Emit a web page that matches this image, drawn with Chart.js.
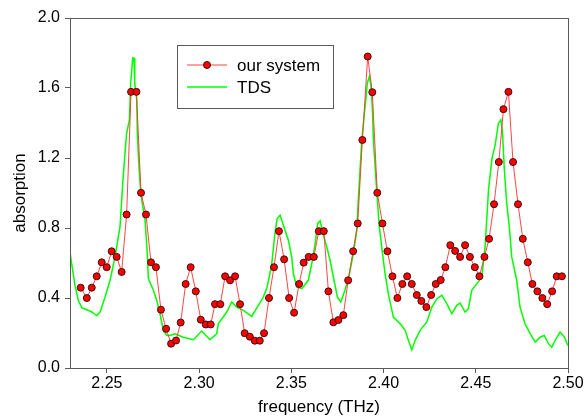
<!DOCTYPE html>
<html>
<head>
<meta charset="utf-8">
<script src="https://cdn.jsdelivr.net/npm/chart.js@4/dist/chart.umd.min.js"></script>
<style>
  html, body { margin: 0; padding: 0; background: #fff; }
  #wrap { width: 587px; height: 419px; }
</style>
</head>
<body>
<div id="wrap"><canvas id="absChart"></canvas></div>
<script>
// "our system" measurement
const ourFreq = [2.2358, 2.2391, 2.2418, 2.2445, 2.2472, 2.2499, 2.2526, 2.2553, 2.2580, 2.2607,
  2.2631, 2.2660, 2.2685, 2.2712, 2.2739, 2.2766, 2.2793, 2.2821, 2.2848, 2.2875,
  2.2900, 2.2927, 2.2954, 2.2982, 2.3009, 2.3036, 2.3063, 2.3086, 2.3115, 2.3141,
  2.3168, 2.3195, 2.3222, 2.3247, 2.3275, 2.3302, 2.3329, 2.3352, 2.3379, 2.3406,
  2.3433, 2.3461, 2.3488, 2.3515, 2.3542, 2.3567, 2.3594, 2.3622, 2.3649, 2.3676,
  2.3701, 2.3728, 2.3755, 2.3782, 2.3808, 2.3835, 2.3860, 2.3885, 2.3914, 2.3939,
  2.3966, 2.3994, 2.4021, 2.4048, 2.4075, 2.4102, 2.4128, 2.4153, 2.4180, 2.4205,
  2.4232, 2.4258, 2.4283, 2.4310, 2.4335, 2.4362, 2.4388, 2.4415, 2.4442, 2.4468,
  2.4495, 2.4520, 2.4547, 2.4572, 2.4599, 2.4625, 2.4650, 2.4677, 2.4702, 2.4729,
  2.4755, 2.4782, 2.4807, 2.4834, 2.4861, 2.4887, 2.4914, 2.4939, 2.4967];
const ourAbs = [0.459, 0.400, 0.459, 0.524, 0.604, 0.576, 0.667, 0.635, 0.549, 0.877,
  1.578, 1.578, 1.001, 0.877, 0.604, 0.576, 0.333, 0.224, 0.139, 0.157,
  0.260, 0.480, 0.576, 0.438, 0.276, 0.249, 0.249, 0.365, 0.365, 0.524,
  0.501, 0.524, 0.365, 0.199, 0.179, 0.156, 0.156, 0.199, 0.400, 0.576,
  0.782, 0.621, 0.400, 0.316, 0.480, 0.602, 0.635, 0.635, 0.782, 0.782,
  0.438, 0.261, 0.274, 0.302, 0.501, 0.667, 0.826, 1.303, 1.780, 1.576,
  1.001, 0.826, 0.667, 0.524, 0.400, 0.480, 0.524, 0.480, 0.417, 0.383,
  0.348, 0.417, 0.480, 0.503, 0.576, 0.702, 0.669, 0.635, 0.702, 0.635,
  0.576, 0.524, 0.635, 0.738, 0.936, 1.177, 1.479, 1.578, 1.177, 0.936,
  0.738, 0.604, 0.480, 0.438, 0.400, 0.365, 0.438, 0.524, 0.524];

// TDS reference curve
const tdsFreq = [2.2300, 2.2309, 2.2327, 2.2345, 2.2363, 2.2391, 2.2418, 2.2445, 2.2463, 2.2490,
  2.2517, 2.2544, 2.2571, 2.2586, 2.2598, 2.2607, 2.2622, 2.2629, 2.2640, 2.2647,
  2.2651, 2.2662, 2.2665, 2.2673, 2.2680, 2.2689, 2.2707, 2.2719, 2.2725, 2.2752,
  2.2770, 2.2788, 2.2806, 2.2824, 2.2842, 2.2869, 2.2914, 2.2969, 2.3014, 2.3059,
  2.3096, 2.3104, 2.3150, 2.3177, 2.3204, 2.3240, 2.3285, 2.3321, 2.3348, 2.3368,
  2.3382, 2.3394, 2.3411, 2.3423, 2.3439, 2.3457, 2.3484, 2.3502, 2.3511, 2.3529,
  2.3557, 2.3592, 2.3611, 2.3629, 2.3643, 2.3656, 2.3674, 2.3692, 2.3710, 2.3728,
  2.3750, 2.3768, 2.3791, 2.3815, 2.3836, 2.3855, 2.3863, 2.3882, 2.3900, 2.3912,
  2.3923, 2.3931, 2.3939, 2.3945, 2.3959, 2.3977, 2.3990, 2.4008, 2.4026, 2.4053,
  2.4090, 2.4117, 2.4135, 2.4153, 2.4171, 2.4198, 2.4234, 2.4262, 2.4289, 2.4316,
  2.4343, 2.4370, 2.4397, 2.4415, 2.4442, 2.4460, 2.4478, 2.4506, 2.4533, 2.4551,
  2.4569, 2.4588, 2.4605, 2.4623, 2.4636, 2.4644, 2.4655, 2.4668, 2.4682, 2.4695,
  2.4722, 2.4740, 2.4767, 2.4795, 2.4822, 2.4849, 2.4871, 2.4894, 2.4912, 2.4930,
  2.4957, 2.4981, 2.4999];
const tdsAbs = [0.663, 0.597, 0.472, 0.387, 0.345, 0.333, 0.320, 0.300, 0.320, 0.405,
  0.500, 0.635, 0.806, 1.055, 1.227, 1.341, 1.418, 1.628, 1.771, 1.771,
  1.628, 1.532, 1.341, 1.170, 1.055, 0.959, 0.845, 0.654, 0.511, 0.444,
  0.387, 0.310, 0.215, 0.186, 0.186, 0.196, 0.176, 0.162, 0.211, 0.162,
  0.196, 0.253, 0.320, 0.377, 0.348, 0.329, 0.295, 0.358, 0.405, 0.460,
  0.530, 0.597, 0.769, 0.854, 0.873, 0.816, 0.730, 0.635, 0.540, 0.463,
  0.453, 0.501, 0.597, 0.711, 0.826, 0.841, 0.759, 0.692, 0.616, 0.520,
  0.405, 0.377, 0.444, 0.540, 0.654, 0.788, 0.959, 1.303, 1.494, 1.628,
  1.666, 1.618, 1.494, 1.303, 1.074, 0.806, 0.692, 0.540, 0.425, 0.291,
  0.253, 0.215, 0.157, 0.104, 0.157, 0.215, 0.262, 0.348, 0.396, 0.415,
  0.368, 0.310, 0.358, 0.371, 0.320, 0.339, 0.444, 0.482, 0.520, 0.700,
  1.017, 1.198, 1.274, 1.399, 1.418, 1.360, 1.131, 0.940, 0.806, 0.635,
  0.501, 0.348, 0.253, 0.196, 0.148, 0.176, 0.186, 0.139, 0.119, 0.157,
  0.205, 0.176, 0.129];

const xTicks = [2.25, 2.30, 2.35, 2.40, 2.45, 2.50];
const yTicks = [0.0, 0.4, 0.8, 1.2, 1.6, 2.0];

const ourPts = ourFreq.map((f, i) => ({x: f, y: ourAbs[i]}));
const tdsPts = tdsFreq.map((f, i) => ({x: f, y: tdsAbs[i]}));

const FONT = "'Liberation Sans', Arial, sans-serif";
const FRAME = '#5a5a5a';

// box round the plot area
const frameBox = {
  id: 'frameBox',
  afterDraw(chart) {
    const {ctx, chartArea: a} = chart;
    ctx.save();
    ctx.strokeStyle = FRAME;
    ctx.lineWidth = 1;
    ctx.strokeRect(Math.round(a.left) + 0.5, Math.round(a.top) + 0.5,
      Math.round(a.right - a.left), Math.round(a.bottom - a.top));
    ctx.restore();
  }
};

// legend box inside the plot, like the original
const innerLegend = {
  id: 'innerLegend',
  afterDraw(chart) {
    const ctx = chart.ctx;
    const x0 = 177, y0 = 45, w = 156, h = 63;
    ctx.save();
    ctx.fillStyle = '#fff';
    ctx.fillRect(x0, y0, w, h);
    ctx.strokeStyle = FRAME;
    ctx.lineWidth = 1;
    ctx.strokeRect(x0 + 0.5, y0 + 0.5, w, h);
    chart.data.datasets.forEach((ds, i) => {
      const y = y0 + 20 + i * 22;
      ctx.strokeStyle = ds.borderColor;
      ctx.lineWidth = ds.borderWidth;
      ctx.beginPath();
      ctx.moveTo(x0 + 10, y);
      ctx.lineTo(x0 + 50, y);
      ctx.stroke();
      if (ds.pointRadius > 0) {
        ctx.beginPath();
        ctx.arc(x0 + 30, y, ds.pointRadius, 0, Math.PI * 2);
        ctx.fillStyle = ds.pointBackgroundColor;
        ctx.fill();
        ctx.strokeStyle = ds.pointBorderColor;
        ctx.lineWidth = 1;
        ctx.stroke();
      }
      ctx.fillStyle = '#000';
      ctx.font = '17px ' + FONT;
      ctx.textBaseline = 'middle';
      ctx.fillText(ds.label, x0 + 60, y + 1);
    });
    ctx.restore();
  }
};

new Chart(document.getElementById('absChart'), {
  type: 'line',
  data: {
    datasets: [
      {
        label: 'our system',
        data: ourPts,
        borderColor: '#ff3030',
        borderWidth: 0.9,
        pointRadius: 3.5,
        pointBackgroundColor: '#ff0000',
        pointBorderColor: '#3a1010',
        pointBorderWidth: 1,
        tension: 0,
        order: 1
      },
      {
        label: 'TDS',
        data: tdsPts,
        borderColor: '#00ff00',
        borderWidth: 1.5,
        pointRadius: 0,
        tension: 0,
        order: 2
      }
    ]
  },
  options: {
    responsive: true,
    maintainAspectRatio: false,
    animation: false,
    layout: { padding: { top: 18, right: 19, left: 0, bottom: 0 } },
    plugins: {
      legend: { display: false },
      tooltip: { enabled: false }
    },
    scales: {
      x: {
        type: 'linear',
        min: 2.23,
        max: 2.50,
        afterBuildTicks: s => { s.ticks = xTicks.map(v => ({value: v})); },
        afterFit: s => { s.height = 51; },
        grid: { drawOnChartArea: false, tickLength: 5, color: FRAME },
        border: { color: FRAME },
        ticks: {
          padding: 1,
          color: '#000',
          font: { family: FONT, size: 16 },
          callback: v => v.toFixed(2)
        },
        title: {
          display: true,
          text: 'frequency (THz)',
          color: '#000',
          font: { family: FONT, size: 17 },
          padding: { top: 0, bottom: 1 }
        }
      },
      y: {
        min: 0,
        max: 2.0,
        afterBuildTicks: s => { s.ticks = yTicks.map(v => ({value: v})); },
        afterFit: s => { s.width = 70; },
        grid: { drawOnChartArea: false, tickLength: 5, color: FRAME },
        border: { color: FRAME },
        ticks: {
          padding: 5,
          color: '#000',
          font: { family: FONT, size: 16 },
          callback: v => v.toFixed(1)
        },
        title: {
          display: true,
          text: 'absorption',
          color: '#000',
          font: { family: FONT, size: 17 },
          padding: { top: 10, bottom: 0 }
        }
      }
    }
  },
  plugins: [frameBox, innerLegend]
});
</script>
</body>
</html>
